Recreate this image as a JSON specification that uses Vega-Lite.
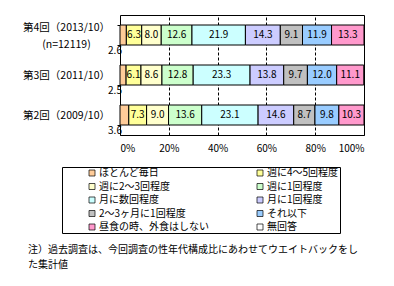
{
  "$schema": "https://vega.github.io/schema/vega-lite/v6.json",
  "width": 244,
  "height": 120,
  "autosize": {"type": "none"},
  "padding": {"left": 120, "top": 15, "right": 30, "bottom": 151},
  "background": "white",
  "config": {
    "font": "Noto Sans CJK JP",
    "view": {"stroke": "#000", "strokeWidth": 1},
    "axis": {"labelFont": "Noto Sans CJK JP", "labelColor": "#000", "labelFontSize": 10}
  },
  "title": {
    "text": ["注）過去調査は、今回調査の性年代構成比にあわせてウエイトバックをし", "た集計値"],
    "orient": "bottom",
    "anchor": "start",
    "frame": "group",
    "dx": -92,
    "offset": 11,
    "fontSize": 10,
    "fontWeight": "normal",
    "lineHeight": 15,
    "color": "#000",
    "font": "Noto Sans CJK JP"
  },
  "data": {
    "values": [
      {"period": "第4回（2013/10）", "cat": "ほとんど毎日", "order": 0, "v": 2.6},
      {"period": "第4回（2013/10）", "cat": "週に4～5回程度", "order": 1, "v": 6.3},
      {"period": "第4回（2013/10）", "cat": "週に2～3回程度", "order": 2, "v": 8.0},
      {"period": "第4回（2013/10）", "cat": "週に1回程度", "order": 3, "v": 12.6},
      {"period": "第4回（2013/10）", "cat": "月に数回程度", "order": 4, "v": 21.9},
      {"period": "第4回（2013/10）", "cat": "月に1回程度", "order": 5, "v": 14.3},
      {"period": "第4回（2013/10）", "cat": "2～3ヶ月に1回程度", "order": 6, "v": 9.1},
      {"period": "第4回（2013/10）", "cat": "それ以下", "order": 7, "v": 11.9},
      {"period": "第4回（2013/10）", "cat": "昼食の時、外食はしない", "order": 8, "v": 13.3},
      {"period": "第3回（2011/10）", "cat": "ほとんど毎日", "order": 0, "v": 2.5},
      {"period": "第3回（2011/10）", "cat": "週に4～5回程度", "order": 1, "v": 6.1},
      {"period": "第3回（2011/10）", "cat": "週に2～3回程度", "order": 2, "v": 8.6},
      {"period": "第3回（2011/10）", "cat": "週に1回程度", "order": 3, "v": 12.8},
      {"period": "第3回（2011/10）", "cat": "月に数回程度", "order": 4, "v": 23.3},
      {"period": "第3回（2011/10）", "cat": "月に1回程度", "order": 5, "v": 13.8},
      {"period": "第3回（2011/10）", "cat": "2～3ヶ月に1回程度", "order": 6, "v": 9.7},
      {"period": "第3回（2011/10）", "cat": "それ以下", "order": 7, "v": 12.0},
      {"period": "第3回（2011/10）", "cat": "昼食の時、外食はしない", "order": 8, "v": 11.1},
      {"period": "第2回（2009/10）", "cat": "ほとんど毎日", "order": 0, "v": 3.6},
      {"period": "第2回（2009/10）", "cat": "週に4～5回程度", "order": 1, "v": 7.3},
      {"period": "第2回（2009/10）", "cat": "週に2～3回程度", "order": 2, "v": 9.0},
      {"period": "第2回（2009/10）", "cat": "週に1回程度", "order": 3, "v": 13.6},
      {"period": "第2回（2009/10）", "cat": "月に数回程度", "order": 4, "v": 23.1},
      {"period": "第2回（2009/10）", "cat": "月に1回程度", "order": 5, "v": 14.6},
      {"period": "第2回（2009/10）", "cat": "2～3ヶ月に1回程度", "order": 6, "v": 8.7},
      {"period": "第2回（2009/10）", "cat": "それ以下", "order": 7, "v": 9.8},
      {"period": "第2回（2009/10）", "cat": "昼食の時、外食はしない", "order": 8, "v": 10.3}
    ]
  },
  "transform": [
    {"stack": "v", "groupby": ["period"], "sort": [{"field": "order"}], "as": ["v0", "v1"]},
    {"calculate": "(datum.v0 + datum.v1) / 2", "as": "mid"}
  ],
  "encoding": {
    "y": {
      "field": "period",
      "type": "nominal",
      "sort": ["第4回（2013/10）", "第3回（2011/10）", "第2回（2009/10）"],
      "scale": {"paddingInner": 0.5, "paddingOuter": 0.25},
      "axis": {
        "title": null,
        "domain": false,
        "ticks": true,
        "tickBand": "extent",
        "tickSize": 3,
        "tickColor": "#000",
        "labelAlign": "center",
        "labelPadding": 51,
        "labelFontSize": 10.5,
        "labelLineHeight": 17,
        "labelExpr": "datum.value == '第4回（2013/10）' ? ['第4回（2013/10）', '(n=12119)'] : datum.value",
        "labelOffset": {"condition": {"test": "datum.value == '第4回（2013/10）'", "value": -8}, "value": 0}
      }
    }
  },
  "layer": [
    {
      "mark": {"type": "bar", "stroke": "#000", "strokeWidth": 1},
      "encoding": {
        "x": {
          "field": "v0",
          "type": "quantitative",
          "scale": {"domain": [0, 100], "nice": false},
          "axis": {
            "title": null,
            "values": [0, 20, 40, 60, 80, 100],
            "labelExpr": "datum.value + '%'",
            "domain": false,
            "ticks": false,
            "labelPadding": 8,
            "grid": true,
            "gridColor": "#000",
            "gridDash": [3, 2],
            "gridOpacity": 1,
            "gridWidth": 1
          }
        },
        "x2": {"field": "v1"},
        "color": {
          "field": "cat",
          "type": "nominal",
          "scale": {
            "domain": ["ほとんど毎日", "週に4～5回程度", "週に2～3回程度", "週に1回程度", "月に数回程度", "月に1回程度", "2～3ヶ月に1回程度", "それ以下", "昼食の時、外食はしない", "無回答"],
            "range": ["#FFCC99", "#FFFF99", "#FFFFCC", "#CCFFCC", "#CCFFFF", "#CCCCFF", "#C0C0C0", "#99CCFF", "#FF99CC", "#FFFFFF"]
          },
          "legend": {
            "title": null,
            "orient": "none",
            "direction": "horizontal",
            "legendX": -58,
            "legendY": 152,
            "columns": 2,
            "gridAlign": "all",
            "symbolType": "square",
            "symbolSize": 36,
            "symbolStrokeColor": "#000",
            "symbolStrokeWidth": 0.7,
            "symbolOffset": 24,
            "labelOffset": 2,
            "labelFontSize": 10,
            "labelFont": "Noto Sans CJK JP",
            "labelColor": "#000",
            "labelLimit": 300,
            "rowPadding": 3.5,
            "columnPadding": 22,
            "padding": 1,
            "strokeColor": "#000"
          }
        },
        "order": {"field": "order"}
      }
    },
    {
      "transform": [{"filter": "datum.order > 0"}],
      "mark": {"type": "text", "fontSize": 10, "color": "#000"},
      "encoding": {
        "x": {"field": "mid", "type": "quantitative"},
        "text": {"field": "v", "type": "quantitative", "format": ".1f"}
      }
    },
    {
      "transform": [{"filter": "datum.order == 0"}],
      "mark": {"type": "text", "fontSize": 10, "color": "#000", "dx": -5, "dy": 16},
      "encoding": {
        "x": {"field": "v0", "type": "quantitative"},
        "text": {"field": "v", "type": "quantitative", "format": ".1f"}
      }
    }
  ]
}
